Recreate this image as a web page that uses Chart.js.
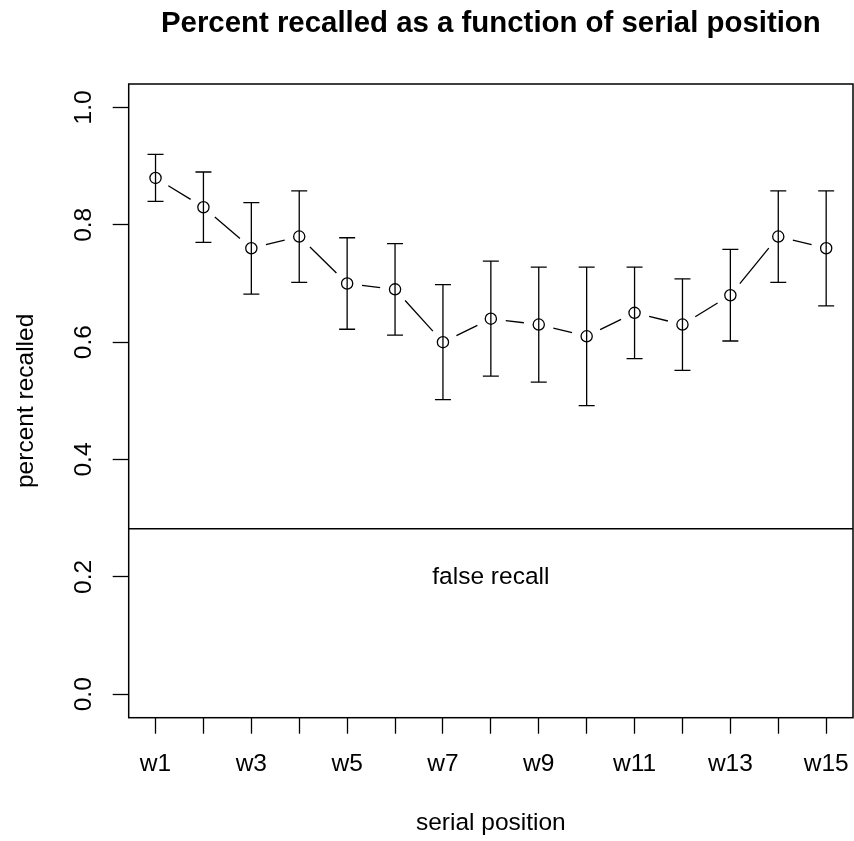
<!DOCTYPE html>
<html>
<head>
<meta charset="utf-8">
<title>Percent recalled as a function of serial position</title>
<style>
  html, body { margin: 0; padding: 0; background: #ffffff; overflow: hidden; }
  #wrap { width: 854px; height: 841px; }
</style>
<script src="https://cdn.jsdelivr.net/npm/chart.js@4.4.1/dist/chart.umd.min.js"></script>
</head>
<body>
<div id="wrap"><canvas id="chart" width="854" height="841"></canvas></div>
<script>
// ---- data ----
const positions   = [1, 2, 3, 4, 5, 6, 7, 8, 9, 10, 11, 12, 13, 14, 15];
const categories  = ['w1','w2','w3','w4','w5','w6','w7','w8','w9','w10','w11','w12','w13','w14','w15'];
const meanRecall  = [0.88, 0.83, 0.76, 0.78, 0.70, 0.69, 0.60, 0.64, 0.63, 0.61, 0.65, 0.63, 0.68, 0.78, 0.76];
const lowerBound  = [0.84, 0.77, 0.682, 0.702, 0.622, 0.612, 0.502, 0.542, 0.532, 0.492, 0.572, 0.552, 0.602, 0.702, 0.662];
const upperBound  = [0.92, 0.89, 0.838, 0.858, 0.778, 0.768, 0.698, 0.738, 0.728, 0.728, 0.728, 0.708, 0.758, 0.858, 0.858];
const falseRecallLevel = 0.282;
const falseRecallLabel = { x: 8, y: 0.2, text: 'false recall' };
const yTickValues = [0, 0.2, 0.4, 0.6, 0.8, 1.0];
const xLabelEvery = 2;                 // label w1, w3, ... only
const xRange = [0.44, 15.56];          // 4% padding around 1..15
const yRange = [-0.04, 1.04];          // 4% padding around 0..1

const mainTitle = 'Percent recalled as a function of serial position';
const xTitle = 'serial position';
const yTitle = 'percent recalled';

// ---- style ----
const FONT = '"Liberation Sans", Arial, Helvetica, sans-serif';
const BASE = 24.5;
const LW = 1.3;

// base-graphics look: box, rotated y labels, titles, error bars, gapped lines
const baseGraphics = {
  id: 'baseGraphics',
  beforeDatasetsDraw(chart) {
    const { ctx, scales: { x, y } } = chart;
    ctx.save();
    ctx.strokeStyle = '#000';
    ctx.lineWidth = LW;
    ctx.lineCap = 'butt';

    // error bars with flat caps
    const cap = 8;
    ctx.beginPath();
    positions.forEach((p, i) => {
      const px = x.getPixelForValue(p);
      const yl = y.getPixelForValue(lowerBound[i]);
      const yu = y.getPixelForValue(upperBound[i]);
      ctx.moveTo(px, yl); ctx.lineTo(px, yu);
      ctx.moveTo(px - cap, yl); ctx.lineTo(px + cap, yl);
      ctx.moveTo(px - cap, yu); ctx.lineTo(px + cap, yu);
    });
    ctx.stroke();

    // connecting segments, stopped short of each point
    const pts = chart.getDatasetMeta(0).data;
    const gap = 15;
    ctx.beginPath();
    for (let i = 0; i < pts.length - 1; i++) {
      const a = pts[i], b = pts[i + 1];
      const dx = b.x - a.x, dy = b.y - a.y;
      const len = Math.hypot(dx, dy);
      if (len <= 2 * gap) continue;
      const ux = dx / len, uy = dy / len;
      ctx.moveTo(a.x + ux * gap, a.y + uy * gap);
      ctx.lineTo(b.x - ux * gap, b.y - uy * gap);
    }
    ctx.stroke();
    ctx.restore();
  },
  afterDraw(chart) {
    const { ctx, chartArea: area, scales: { x, y } } = chart;
    const cx = (area.left + area.right) / 2;
    const cy = (area.top + area.bottom) / 2;
    ctx.save();

    // plot box
    ctx.strokeStyle = '#000';
    ctx.lineWidth = 1.5;
    ctx.strokeRect(area.left, area.top, area.right - area.left, area.bottom - area.top);

    ctx.fillStyle = '#000';

    // main title
    ctx.font = 'bold 29.4px ' + FONT;
    ctx.textAlign = 'center';
    ctx.textBaseline = 'alphabetic';
    ctx.fillText(mainTitle, cx, 32);

    // x axis title
    ctx.font = BASE + 'px ' + FONT;
    ctx.fillText(xTitle, cx, 830);

    // y tick labels, parallel to the axis
    y.ticks.forEach(t => {
      const py = y.getPixelForValue(t.value);
      ctx.save();
      ctx.translate(area.left - 37.5, py);
      ctx.rotate(-Math.PI / 2);
      ctx.fillText(t.value.toFixed(1), 0, 0);
      ctx.restore();
    });

    // y axis title
    ctx.save();
    ctx.translate(33.3, cy);
    ctx.rotate(-Math.PI / 2);
    ctx.fillText(yTitle, 0, 0);
    ctx.restore();

    // annotation under the reference line
    ctx.textBaseline = 'middle';
    ctx.fillText(falseRecallLabel.text,
      x.getPixelForValue(falseRecallLabel.x),
      y.getPixelForValue(falseRecallLabel.y));

    ctx.restore();
  }
};

const tickGrid = {
  display: true,
  drawOnChartArea: false,
  drawTicks: true,
  tickLength: 16,
  tickWidth: LW,
  tickColor: '#000',
  color: '#000'
};

new Chart(document.getElementById('chart'), {
  type: 'line',
  data: {
    datasets: [
      {
        label: 'percent recalled',
        data: positions.map((p, i) => ({ x: p, y: meanRecall[i] })),
        showLine: false,
        pointStyle: 'circle',
        pointRadius: 5.6,
        pointBorderWidth: LW,
        pointBorderColor: '#000',
        pointBackgroundColor: 'rgba(0,0,0,0)',
        borderColor: '#000'
      },
      {
        label: 'false recall',
        data: [{ x: xRange[0], y: falseRecallLevel }, { x: xRange[1], y: falseRecallLevel }],
        showLine: true,
        borderColor: '#000',
        borderWidth: LW,
        pointRadius: 0,
        fill: false
      }
    ]
  },
  options: {
    responsive: false,
    animation: false,
    devicePixelRatio: 1,
    layout: { autoPadding: false, padding: { top: 84, right: 1, left: 0, bottom: 0 } },
    plugins: {
      legend: { display: false },
      title: { display: false },
      tooltip: { enabled: false }
    },
    scales: {
      x: {
        type: 'linear',
        min: xRange[0],
        max: xRange[1],
        afterBuildTicks(scale) { scale.ticks = positions.map(v => ({ value: v })); },
        afterFit(scale) {
          scale.height = 123.3;
          scale.paddingLeft = 0;
          scale.paddingRight = 0;
        },
        border: { display: false },
        grid: tickGrid,
        ticks: {
          autoSkip: false,
          maxRotation: 0,
          minRotation: 0,
          padding: 16,
          color: '#000',
          font: { family: FONT, size: BASE },
          callback(value) {
            const i = positions.indexOf(value);
            return (i >= 0 && i % xLabelEvery === 0) ? categories[i] : '';
          }
        }
      },
      y: {
        type: 'linear',
        min: yRange[0],
        max: yRange[1],
        afterBuildTicks(scale) { scale.ticks = yTickValues.map(v => ({ value: v })); },
        afterFit(scale) {
          scale.width = 128.7;
          scale.paddingTop = 0;
          scale.paddingBottom = 0;
        },
        border: { display: false },
        grid: tickGrid,
        ticks: { display: false }
      }
    }
  },
  plugins: [baseGraphics]
});
</script>
</body>
</html>
